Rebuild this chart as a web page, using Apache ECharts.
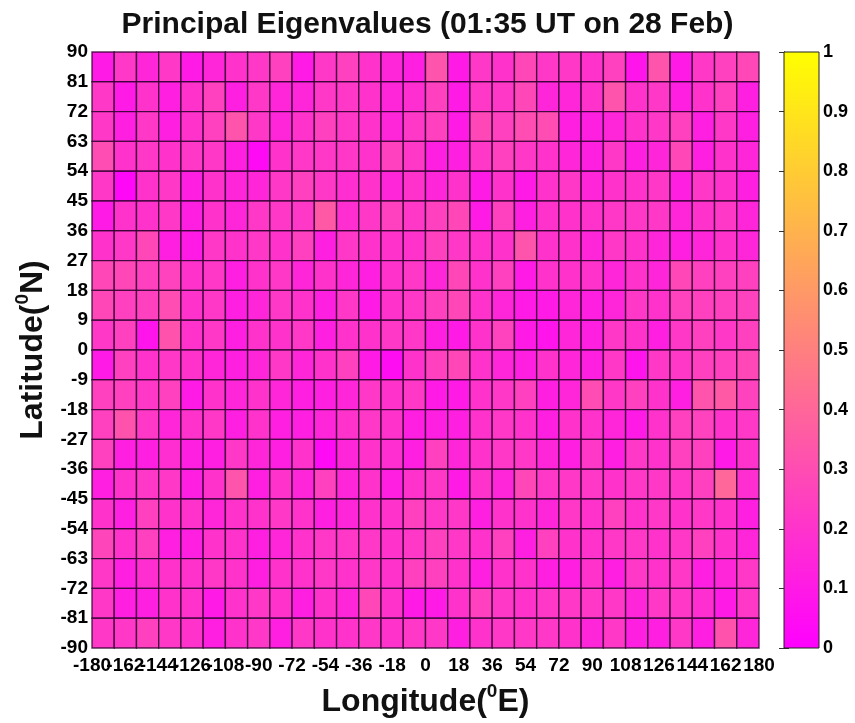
<!DOCTYPE html>
<html>
<head>
<meta charset="utf-8">
<title>Principal Eigenvalues</title>
<script src="https://cdn.jsdelivr.net/npm/echarts@6/dist/echarts.min.js"></script>
<style>
  html, body { margin: 0; padding: 0; background: #ffffff; }
  #chart { width: 855px; height: 723px; }
</style>
</head>
<body>
<div id="chart"></div>
<script>
// Grid cell edges: 30 longitude cells of 12 deg, 20 latitude cells of 9 deg
const lonStarts = [-180,-168,-156,-144,-132,-120,-108,-96,-84,-72,-60,-48,-36,-24,-12,
                   0,12,24,36,48,60,72,84,96,108,120,132,144,156,168];
const latTops = [90,81,72,63,54,45,36,27,18,9,0,-9,-18,-27,-36,-45,-54,-63,-72,-81];
const lonStep = 12;
const latStep = 9;

// Axis tick labels
const lonTicks = [-180,-162,-144,-126,-108,-90,-72,-54,-36,-18,0,18,36,54,72,90,108,126,144,162,180];
const latTicks = [-90,-81,-72,-63,-54,-45,-36,-27,-18,-9,0,9,18,27,36,45,54,63,72,81,90];
const barTicks = [0,0.1,0.2,0.3,0.4,0.5,0.6,0.7,0.8,0.9,1];

// Principal eigenvalue per cell, one row per latitude band (north to south),
// columns west to east from -180.
const eigenRows = [
  [0.10,0.22,0.15,0.22,0.10,0.15,0.20,0.22,0.25,0.10,0.22,0.25,0.20,0.15,0.12, 0.33,0.10,0.22,0.20,0.28,0.22,0.22,0.20,0.25,0.08,0.33,0.10,0.22,0.25,0.28],
  [0.22,0.10,0.20,0.12,0.20,0.25,0.12,0.22,0.15,0.15,0.22,0.22,0.20,0.15,0.18, 0.25,0.10,0.22,0.22,0.28,0.15,0.15,0.20,0.33,0.20,0.22,0.12,0.20,0.25,0.12],
  [0.22,0.12,0.22,0.12,0.20,0.25,0.33,0.22,0.15,0.20,0.25,0.22,0.20,0.15,0.22, 0.25,0.10,0.28,0.25,0.30,0.30,0.12,0.12,0.15,0.20,0.22,0.25,0.12,0.22,0.12],
  [0.30,0.20,0.22,0.20,0.22,0.22,0.12,0.04,0.20,0.22,0.22,0.22,0.20,0.25,0.22, 0.12,0.12,0.22,0.25,0.22,0.20,0.15,0.12,0.22,0.12,0.15,0.28,0.12,0.20,0.15],
  [0.22,0.03,0.20,0.22,0.12,0.20,0.15,0.15,0.22,0.25,0.22,0.18,0.20,0.15,0.20, 0.15,0.20,0.10,0.20,0.10,0.20,0.22,0.15,0.20,0.20,0.22,0.12,0.22,0.20,0.12],
  [0.10,0.20,0.20,0.22,0.12,0.20,0.15,0.22,0.22,0.22,0.35,0.18,0.22,0.25,0.22, 0.25,0.28,0.10,0.25,0.12,0.20,0.20,0.20,0.22,0.22,0.22,0.15,0.20,0.22,0.15],
  [0.20,0.22,0.28,0.12,0.10,0.22,0.20,0.22,0.20,0.25,0.12,0.22,0.20,0.20,0.20, 0.25,0.22,0.20,0.20,0.33,0.20,0.20,0.15,0.22,0.20,0.15,0.12,0.15,0.20,0.15],
  [0.28,0.28,0.25,0.26,0.20,0.22,0.12,0.20,0.22,0.15,0.20,0.15,0.12,0.20,0.22, 0.15,0.28,0.20,0.25,0.10,0.20,0.20,0.20,0.15,0.20,0.15,0.28,0.25,0.25,0.25],
  [0.28,0.25,0.25,0.30,0.20,0.22,0.12,0.15,0.22,0.20,0.12,0.22,0.10,0.20,0.22, 0.25,0.28,0.20,0.15,0.10,0.10,0.15,0.12,0.15,0.22,0.20,0.26,0.25,0.25,0.26],
  [0.22,0.25,0.08,0.32,0.20,0.22,0.12,0.20,0.20,0.22,0.12,0.20,0.20,0.22,0.22, 0.12,0.10,0.20,0.26,0.10,0.08,0.15,0.12,0.22,0.20,0.12,0.22,0.25,0.22,0.25],
  [0.10,0.25,0.20,0.22,0.20,0.15,0.12,0.15,0.22,0.15,0.20,0.25,0.10,0.05,0.20, 0.25,0.28,0.20,0.15,0.12,0.20,0.15,0.12,0.22,0.08,0.22,0.22,0.25,0.25,0.28],
  [0.25,0.25,0.22,0.25,0.10,0.20,0.15,0.20,0.15,0.12,0.12,0.15,0.22,0.20,0.22, 0.10,0.10,0.20,0.22,0.25,0.12,0.15,0.30,0.22,0.25,0.20,0.12,0.33,0.35,0.26],
  [0.25,0.32,0.22,0.15,0.20,0.22,0.12,0.20,0.12,0.12,0.15,0.20,0.22,0.20,0.12, 0.12,0.12,0.20,0.22,0.20,0.12,0.20,0.20,0.15,0.10,0.20,0.25,0.26,0.20,0.22],
  [0.25,0.12,0.12,0.18,0.12,0.12,0.22,0.15,0.12,0.20,0.04,0.15,0.20,0.18,0.12, 0.25,0.15,0.20,0.22,0.22,0.15,0.12,0.22,0.12,0.22,0.20,0.25,0.25,0.10,0.20],
  [0.12,0.20,0.22,0.22,0.12,0.20,0.33,0.12,0.20,0.15,0.25,0.15,0.20,0.12,0.20, 0.22,0.10,0.20,0.15,0.28,0.22,0.22,0.22,0.20,0.22,0.22,0.22,0.25,0.40,0.18],
  [0.20,0.12,0.25,0.20,0.20,0.15,0.20,0.20,0.22,0.20,0.12,0.15,0.20,0.20,0.25, 0.22,0.22,0.12,0.20,0.20,0.15,0.22,0.20,0.25,0.20,0.22,0.20,0.22,0.20,0.12],
  [0.27,0.20,0.25,0.12,0.12,0.20,0.20,0.12,0.15,0.20,0.22,0.22,0.22,0.20,0.22, 0.25,0.22,0.20,0.25,0.12,0.25,0.20,0.20,0.22,0.22,0.20,0.22,0.25,0.20,0.15],
  [0.22,0.12,0.18,0.20,0.20,0.22,0.20,0.12,0.20,0.20,0.22,0.20,0.22,0.20,0.25, 0.25,0.20,0.12,0.20,0.20,0.12,0.12,0.20,0.12,0.22,0.20,0.22,0.12,0.15,0.22],
  [0.22,0.12,0.12,0.20,0.20,0.10,0.20,0.22,0.20,0.12,0.20,0.15,0.28,0.20,0.10, 0.10,0.20,0.25,0.22,0.20,0.22,0.22,0.22,0.22,0.15,0.22,0.22,0.18,0.10,0.22],
  [0.22,0.22,0.25,0.22,0.20,0.12,0.20,0.22,0.12,0.22,0.20,0.20,0.22,0.20,0.22, 0.22,0.12,0.20,0.22,0.22,0.22,0.20,0.15,0.22,0.12,0.12,0.22,0.12,0.32,0.15]
];

// Flatten to [lonStart, latTop, value] triples
const cells = [];
latTops.forEach(function (lat, r) {
  lonStarts.forEach(function (lon, c) {
    cells.push([lon, lat, eigenRows[r][c]]);
  });
});

const FONT = 'Arial, "Liberation Sans", Helvetica, sans-serif';
const chart = echarts.init(document.getElementById('chart'), null, { renderer: 'canvas' });

const tickLabel = { color: '#000', fontFamily: FONT, fontWeight: 'bold', fontSize: 19 };

// Longitude labels are split over two axes (even / odd ticks) so that the
// crowded labels are all kept, overlapping as they do at this font size.
function lonLabel(parity) {
  return function (v) {
    const i = lonTicks.indexOf(Math.round(v));
    return (i >= 0 && i % 2 === parity) ? String(lonTicks[i]) : '';
  };
}

const axisName = function (fs) {
  return {
    rich: {
      a: { fontFamily: FONT, fontWeight: 'bold', fontSize: fs, color: '#111', lineHeight: fs + 4, verticalAlign: 'bottom' },
      s: { fontFamily: FONT, fontWeight: 'bold', fontSize: Math.round(fs * 0.6), color: '#111', lineHeight: Math.round(fs * 0.6), verticalAlign: 'top' }
    }
  };
};

chart.setOption({
  backgroundColor: '#ffffff',
  animation: false,
  title: {
    text: 'Principal Eigenvalues (01:35 UT on 28 Feb)',
    left: 'center',
    top: 5,
    textStyle: { color: '#111', fontFamily: FONT, fontWeight: 'bold', fontSize: 30 }
  },
  visualMap: {
    type: 'continuous',
    show: false,
    min: 0,
    max: 1,
    dimension: 2,
    seriesIndex: 0,
    inRange: { color: ['#ff00ff', '#ffff00'] }
  },
  grid: [
    { left: 92, right: 96, top: 52, bottom: 75 },
    { left: 784, width: 35, top: 52, bottom: 75 }
  ],
  xAxis: [
    {
      gridIndex: 0,
      type: 'value',
      min: lonTicks[0],
      max: lonTicks[lonTicks.length - 1],
      interval: 18,
      axisLine: { show: true, lineStyle: { color: '#222', width: 1 } },
      axisTick: { show: false },
      splitLine: { show: false },
      axisLabel: Object.assign({ margin: 8, formatter: lonLabel(0) }, tickLabel),
      name: '{a|Longitude(}{s|0}{a|E)}',
      nameLocation: 'middle',
      nameGap: 34,
      nameTextStyle: axisName(32)
    },
    {
      gridIndex: 1,
      type: 'value',
      min: 0,
      max: 1,
      show: false
    },
    {
      gridIndex: 0,
      type: 'value',
      position: 'bottom',
      min: lonTicks[0],
      max: lonTicks[lonTicks.length - 1],
      interval: 18,
      axisLine: { show: false },
      axisTick: { show: false },
      splitLine: { show: false },
      axisLabel: Object.assign({ margin: 8, formatter: lonLabel(1) }, tickLabel)
    }
  ],
  yAxis: [
    {
      gridIndex: 0,
      type: 'value',
      min: latTicks[0],
      max: latTicks[latTicks.length - 1],
      interval: 9,
      axisLine: { show: true, lineStyle: { color: '#222', width: 1 } },
      axisTick: { show: false },
      splitLine: { show: false },
      axisLabel: Object.assign({ margin: 4, showMinLabel: true, showMaxLabel: true }, tickLabel),
      name: '{a|Latitude(}{s|0}{a|N)}',
      nameLocation: 'middle',
      nameRotate: 90,
      nameGap: 42,
      nameTextStyle: axisName(32)
    },
    {
      gridIndex: 1,
      type: 'value',
      position: 'right',
      min: barTicks[0],
      max: barTicks[barTicks.length - 1],
      interval: 0.1,
      axisLine: { show: true, lineStyle: { color: '#222', width: 1 } },
      axisTick: { show: true, inside: true, length: 5, lineStyle: { color: '#333' } },
      splitLine: { show: false },
      axisLabel: Object.assign({ margin: 4 }, tickLabel, { fontSize: 18 })
    },
    {
      gridIndex: 1,
      type: 'value',
      position: 'left',
      min: barTicks[0],
      max: barTicks[barTicks.length - 1],
      interval: 0.1,
      axisLine: { show: true, lineStyle: { color: '#222', width: 1 } },
      axisTick: { show: true, inside: true, length: 5, lineStyle: { color: '#333' } },
      axisLabel: { show: false },
      splitLine: { show: false }
    }
  ],
  series: [
    {
      type: 'custom',
      name: 'eigenvalue',
      xAxisIndex: 0,
      yAxisIndex: 0,
      encode: { x: 0, y: 1 },
      data: cells,
      renderItem: function (params, api) {
        const lon = api.value(0);
        const lat = api.value(1);
        const p1 = api.coord([lon, lat]);
        const p2 = api.coord([lon + lonStep, lat - latStep]);
        return {
          type: 'rect',
          shape: { x: p1[0], y: p1[1], width: p2[0] - p1[0], height: p2[1] - p1[1] },
          style: { fill: api.visual('color'), stroke: 'rgba(45,0,45,0.8)', lineWidth: 1.4 }
        };
      }
    },
    {
      // colour bar
      type: 'custom',
      xAxisIndex: 1,
      yAxisIndex: 1,
      encode: { x: 0, y: 1 },
      data: [[0, 1]],
      silent: true,
      renderItem: function (params, api) {
        const top = api.coord([0, barTicks[barTicks.length - 1]]);
        const bot = api.coord([1, barTicks[0]]);
        return {
          type: 'rect',
          shape: { x: top[0], y: top[1], width: bot[0] - top[0], height: bot[1] - top[1] },
          style: {
            fill: new echarts.graphic.LinearGradient(0, 1, 0, 0, [
              { offset: 0, color: '#ff00ff' },
              { offset: 1, color: '#ffff00' }
            ]),
            stroke: '#222',
            lineWidth: 1
          }
        };
      }
    }
  ]
});
</script>
</body>
</html>
